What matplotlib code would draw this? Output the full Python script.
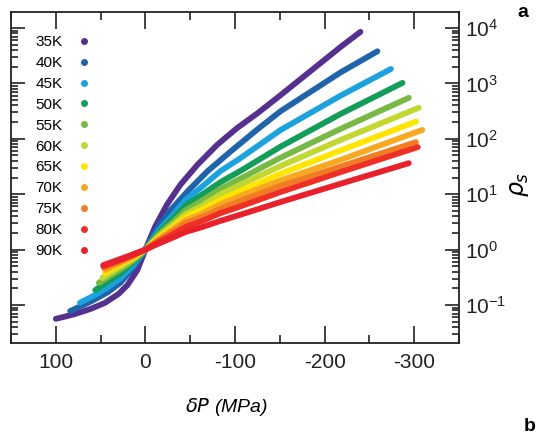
import numpy as np
import matplotlib
matplotlib.use("Agg")
import matplotlib.pyplot as plt
from matplotlib.lines import Line2D
from matplotlib.ticker import LogLocator, MultipleLocator

plt.rcParams['font.family'] = ['Liberation Sans', 'DejaVu Sans']
plt.rcParams['axes.unicode_minus'] = False

# temperatures (legend) and colours
temps = ["35K", "40K", "45K", "50K", "55K", "60K", "65K", "70K", "75K", "80K", "90K"]
colors = ["#55308f", "#1f64aa", "#1ca3de", "#139d5a", "#78b945", "#c3d733",
          "#ffe500", "#f8a921", "#f07c24", "#ee2f26", "#e8212c"]

# delta P (MPa) and log10(rho), one pair per temperature
dP_35 = [100, 80, 61, 45, 30, 20, 9, 0, -11, -24, -39, -58, -80, -102, -125, -151, -218, -240]
lr_35 = [-1.25, -1.17, -1.07, -0.96, -0.80, -0.64, -0.37, 0, 0.42, 0.81, 1.17, 1.53, 1.89,
         2.19, 2.46, 2.79, 3.66, 3.93]
dP_40 = [84, 60, 42, 28, 13, 0, -13, -28, -47, -69, -95, -125, -151, -218, -259]
lr_40 = [-1.11, -0.93, -0.77, -0.60, -0.32, 0, 0.38, 0.71, 1.05, 1.41, 1.77, 2.17,
         2.50, 3.20, 3.58]
dP_45 = [73, 55, 42, 28, 13, 0, -15, -31, -45, -62, -84, -106, -151, -218, -274]
lr_45 = [-0.96, -0.81, -0.68, -0.52, -0.27, 0, 0.35, 0.63, 0.90, 1.12, 1.42, 1.65,
         2.16, 2.78, 3.26]
dP_50 = [56, 42, 28, 13, 0, -15, -31, -45, -62, -84, -106, -151, -218, -287]
lr_50 = [-0.73, -0.58, -0.43, -0.22, 0, 0.31, 0.56, 0.80, 0.98, 1.22, 1.42, 1.86, 2.45, 3.01]
dP_55 = [52, 28, 13, 0, -15, -31, -45, -62, -84, -106, -151, -218, -294]
lr_55 = [-0.60, -0.36, -0.19, 0, 0.28, 0.50, 0.71, 0.87, 1.10, 1.28, 1.66, 2.18, 2.74]
dP_60 = [48, 28, 13, 0, -15, -31, -45, -62, -84, -106, -151, -218, -305]
lr_60 = [-0.51, -0.31, -0.16, 0, 0.24, 0.45, 0.64, 0.78, 1.00, 1.17, 1.51, 1.98, 2.56]
dP_65 = [45, 28, 13, 0, -15, -31, -45, -62, -84, -106, -151, -218, -302]
lr_65 = [-0.42, -0.27, -0.14, 0, 0.22, 0.41, 0.58, 0.71, 0.90, 1.06, 1.37, 1.79, 2.31]
dP_70 = [45, 28, 13, 0, -15, -31, -45, -62, -84, -106, -151, -218, -309]
lr_70 = [-0.37, -0.24, -0.12, 0, 0.19, 0.37, 0.53, 0.64, 0.82, 0.97, 1.25, 1.62, 2.16]
dP_75 = [46, 28, 13, 0, -15, -31, -45, -62, -84, -106, -151, -218, -302]
lr_75 = [-0.33, -0.21, -0.10, 0, 0.17, 0.33, 0.48, 0.58, 0.74, 0.88, 1.15, 1.50, 1.94]
dP_80 = [47, 28, 13, 0, -15, -31, -45, -62, -84, -106, -151, -218, -304]
lr_80 = [-0.30, -0.19, -0.09, 0, 0.14, 0.28, 0.41, 0.51, 0.66, 0.78, 1.04, 1.40, 1.85]
dP_90 = [47, 28, 13, 0, -15, -31, -45, -62, -84, -106, -151, -218, -294]
lr_90 = [-0.28, -0.17, -0.08, 0, 0.11, 0.22, 0.32, 0.40, 0.52, 0.63, 0.86, 1.19, 1.56]

x_ticks = [100, 0, -100, -200, -300]
x_tick_labels = ["100", "0", "-100", "-200", "-300"]

curves = [(dP_35, lr_35), (dP_40, lr_40), (dP_45, lr_45), (dP_50, lr_50),
          (dP_55, lr_55), (dP_60, lr_60), (dP_65, lr_65), (dP_70, lr_70),
          (dP_75, lr_75), (dP_80, lr_80), (dP_90, lr_90)]

fig = plt.figure(figsize=(5.45, 4.36), dpi=100)
ax = fig.add_axes([0.0202, 0.2133, 0.822, 0.7592])

for (dp, lr), c in zip(curves, colors):
    ax.plot(dp, np.power(10.0, lr), color=c, lw=4.2,
            solid_capstyle='round', solid_joinstyle='round')

ax.set_yscale('log')
ax.set_xlim(150, -350)
ax.set_ylim(10 ** -1.686, 10 ** 4.289)
ax.set_xticks(x_ticks, labels=x_tick_labels)
ax.xaxis.set_minor_locator(MultipleLocator(50))
ax.yaxis.set_major_locator(LogLocator(base=10, numticks=12))
ax.yaxis.set_minor_locator(LogLocator(base=10, subs=np.arange(2, 10), numticks=12))

ax.yaxis.tick_right()
ax.tick_params(which='both', direction='in', top=True, bottom=True,
               left=True, right=True, width=1.2, colors='#222222')
ax.tick_params(which='major', length=10)
ax.tick_params(which='minor', length=5)
ax.tick_params(axis='x', which='major', labelsize=15, pad=7, length=12)
ax.tick_params(axis='x', which='minor', length=6)
ax.tick_params(axis='y', which='major', labelsize=15, pad=4)
for s in ax.spines.values():
    s.set_linewidth(1.3)
    s.set_color('#222222')

ax.set_xlabel(r"$\delta P$ (MPa)", fontsize=14, fontstyle='italic')
ax.xaxis.set_label_coords(0.48, -0.16)
ax.yaxis.set_label_position('right')
ax.set_ylabel(r"$\rho_s$", fontsize=17, rotation=90)
ax.yaxis.set_label_coords(1.11, 0.48)

handles = [Line2D([], [], ls='', marker='o', ms=4, color=c) for c in colors]
ax.legend(handles, temps, loc='upper left', bbox_to_anchor=(0.054, 0.93),
          frameon=False, markerfirst=False, fontsize=11, labelspacing=0.45,
          handlelength=1.0, handletextpad=0.9, borderpad=0, borderaxespad=0)

fig.text(0.96, 0.972, "a", fontsize=14, fontweight='bold', ha='center', va='center')
fig.text(0.972, 0.002, "b", fontsize=14, fontweight='bold', ha='center', va='bottom')

fig.savefig("out.png", dpi=100)
